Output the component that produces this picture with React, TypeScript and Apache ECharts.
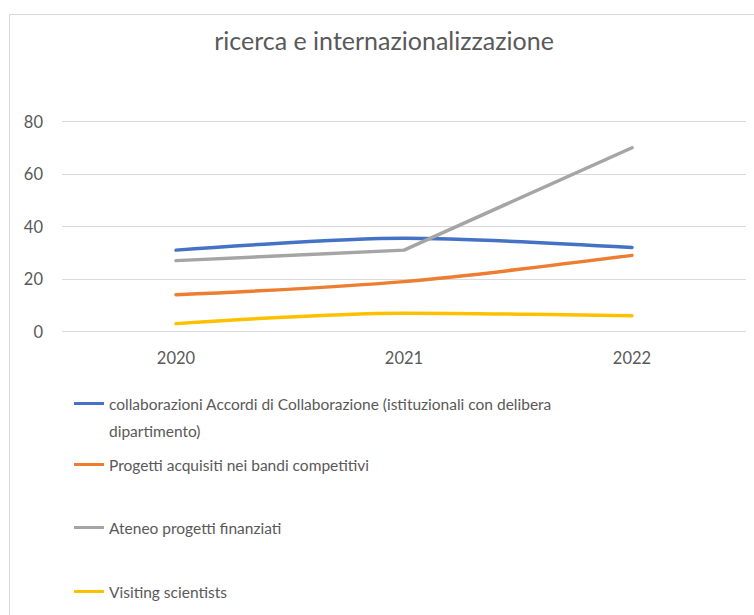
import React, { useEffect, useRef } from "react";
import * as echarts from "echarts";

const categories = ["2020", "2021", "2022"];
const seriesNames = [
  "collaborazioni Accordi di Collaborazione (istituzionali con delibera dipartimento)",
  "Progetti acquisiti nei bandi competitivi",
  "Ateneo progetti finanziati",
  "Visiting scientists",
];
const collaborazioni = [31, 35.5, 32];
const progetti = [14, 19, 29];
const ateneo = [27, 31, 70];
const visiting = [3, 7, 6];
const yTicks = [0, 20, 40, 60, 80];
const colors = ["#4472C4", "#ED7D31", "#A5A5A5", "#FFC000"];

const FONT = "Lato, 'Open Sans', sans-serif";

export default function App() {
  const ref = useRef<HTMLDivElement>(null);
  useEffect(() => {
    if (!ref.current) return;
    const chart = echarts.init(ref.current, undefined, { renderer: "svg" });
    const values = [collaborazioni, progetti, ateneo, visiting];
    const smooth = [0.3, 0.3, false, 0.3];
    const legendTops = [363, 451, 514, 578];
    const legends = seriesNames.map((n, i) => ({
      show: true,
      data: [n],
      left: 74,
      top: legendTops[i],
      orient: "vertical",
      icon: "rect",
      itemWidth: 30,
      itemHeight: 3,
      itemGap: 3,
      padding: 0,
      selectedMode: false,
      formatter: (name: string) =>
        i === 0
          ? " \ncollaborazioni Accordi di Collaborazione (istituzionali con delibera\ndipartimento)"
          : name,
      textStyle: {
        fontFamily: FONT,
        fontSize: 15.5,
        color: "#595959",
        lineHeight: 27,
      },
    }));
    chart.setOption({
      animation: false,
      backgroundColor: "#ffffff",
      title: {
        text: "ricerca e internazionalizzazione",
        left: 379,
        textAlign: "center",
        top: 22,
        textStyle: {
          fontFamily: FONT,
          fontSize: 25,
          fontWeight: "normal",
          color: "#595959",
        },
      },
      graphic: [
        {
          type: "rect",
          shape: { x: 9.5, y: 14.5, width: 800, height: 700 },
          style: { fill: "none", stroke: "#d9d9d9", lineWidth: 1 },
          silent: true,
          z: -1,
        },
      ],
      legend: legends,
      grid: { left: 62, right: 8, top: 121.5, height: 210, containLabel: false },
      xAxis: {
        type: "category",
        data: categories,
        boundaryGap: true,
        axisLine: { show: false },
        axisTick: { show: false },
        axisLabel: {
          fontFamily: FONT,
          fontSize: 16.5,
          color: "#595959",
          margin: 18,
        },
      },
      yAxis: {
        type: "value",
        min: yTicks[0],
        max: yTicks[yTicks.length - 1],
        interval: 20,
        axisLine: { show: false },
        axisTick: { show: false },
        axisLabel: {
          fontFamily: FONT,
          fontSize: 16.5,
          color: "#595959",
          margin: 19,
        },
        splitLine: { lineStyle: { color: "#d9d9d9", width: 1 } },
      },
      series: seriesNames.map((n, i) => ({
        name: n,
        type: "line",
        data: values[i],
        smooth: smooth[i],
        showSymbol: false,
        symbol: "none",
        lineStyle: { color: colors[i], width: 3.5, cap: "round" },
        itemStyle: { color: colors[i] },
      })),
    });
    return () => chart.dispose();
  }, []);
  return (
    <div
      ref={ref}
      style={{ position: "fixed", left: 0, top: 0, width: 754, height: 615 }}
    />
  );
}
